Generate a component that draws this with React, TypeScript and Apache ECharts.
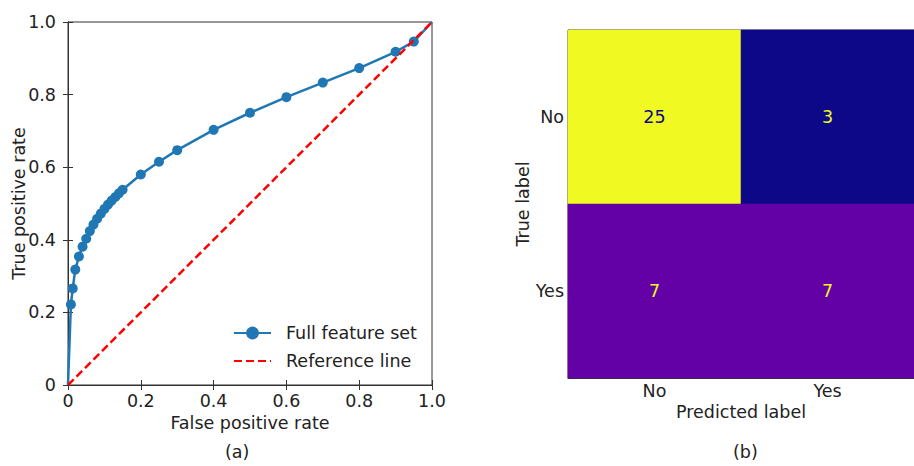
import React, { useEffect, useRef } from "react";
import * as echarts from "echarts";

const fprValues = [0, 0.008, 0.013, 0.02, 0.03, 0.04, 0.05, 0.06, 0.07, 0.08, 0.09, 0.1, 0.11, 0.12, 0.13, 0.14, 0.15, 0.2, 0.25, 0.3, 0.4, 0.5, 0.6, 0.7, 0.8, 0.9, 0.95, 1.0];
const tprValues = [0, 0.222, 0.266, 0.318, 0.354, 0.381, 0.403, 0.424, 0.442, 0.458, 0.472, 0.485, 0.497, 0.508, 0.518, 0.528, 0.538, 0.58, 0.615, 0.647, 0.703, 0.75, 0.793, 0.833, 0.873, 0.918, 0.946, 1.0];
const referenceX = [0, 1];
const referenceY = [0, 1];
const classLabels = ["No", "Yes"];
// confusion matrix rows = true label, cols = predicted label
const confusion = [
  [25, 3],
  [7, 7],
];
const seriesNames = ["Full feature set", "Reference line"];

const FONT = "DejaVu Sans";
const FS = 17.5;
const TXT = "#222";
const FRAME = "#333";

export default function App() {
  const ref = useRef<HTMLDivElement>(null);
  useEffect(() => {
    document.body.style.margin = "0";
    const chart = echarts.init(ref.current!, undefined, { renderer: "svg" });
    const rocData = fprValues.map((x, i) => {
      const item: any = { value: [x, tprValues[i]] };
      if (i === 0 || i === fprValues.length - 1) item.symbol = "none";
      return item;
    });
    const refData = referenceX.map((x, i) => [x, referenceY[i]]);
    const heatData: any[] = [];
    const flat = confusion.flat();
    const vmin = Math.min(...flat);
    const vmax = Math.max(...flat);
    confusion.forEach((row, r) =>
      row.forEach((v, c) => {
        heatData.push({
          value: [c, r, v],
          label: { color: v > (vmin + vmax) / 2 ? "#0d0887" : "#f0f921" },
        });
      })
    );
    const tickFmt = (v: number) => (v === 0 ? "0" : v.toFixed(1));
    const valueAxisCommon = {
      min: 0,
      max: 1,
      interval: 0.2,
      splitLine: { show: false },
      axisLine: { show: true, lineStyle: { color: FRAME, width: 1 } },
      axisTick: { show: true, inside: true, length: 5, lineStyle: { color: FRAME } },
    };
    const txt = { fontSize: FS, color: TXT, fontFamily: FONT };
    chart.setOption({
      animation: false,
      textStyle: { fontFamily: FONT },
      grid: [
        { left: 68, top: 22, width: 364, height: 363, show: true, borderColor: FRAME, borderWidth: 1, backgroundColor: "transparent" },
        { left: 568, top: 30, width: 349, height: 348, show: true, borderColor: FRAME, borderWidth: 1, backgroundColor: "transparent" },
      ],
      xAxis: [
        {
          ...valueAxisCommon,
          type: "value",
          gridIndex: 0,
          position: "bottom",
          axisLabel: { ...txt, formatter: tickFmt, margin: 7 },
          name: "False positive rate",
          nameLocation: "middle",
          nameGap: 29,
          nameMoveOverlap: false,
          nameTextStyle: txt,
        },
        {
          ...valueAxisCommon,
          type: "value",
          gridIndex: 0,
          position: "top",
          axisLabel: { show: false },
        },
        {
          type: "category",
          gridIndex: 1,
          data: classLabels,
          position: "bottom",
          axisLine: { show: true, lineStyle: { color: FRAME } },
          axisTick: { show: true, inside: true, length: 4, alignWithLabel: true, lineStyle: { color: FRAME } },
          axisLabel: { ...txt, margin: 4 },
          splitLine: { show: false },
          name: "Predicted label",
          nameLocation: "middle",
          nameGap: 25,
          nameMoveOverlap: false,
          nameTextStyle: txt,
        },
      ],
      yAxis: [
        {
          ...valueAxisCommon,
          type: "value",
          gridIndex: 0,
          position: "left",
          axisLabel: { ...txt, formatter: tickFmt, margin: 12 },
          name: "True positive rate",
          nameLocation: "middle",
          nameGap: 40,
          nameMoveOverlap: false,
          nameTextStyle: txt,
        },
        {
          ...valueAxisCommon,
          type: "value",
          gridIndex: 0,
          position: "right",
          axisLabel: { show: false },
        },
        {
          type: "category",
          gridIndex: 1,
          data: classLabels,
          inverse: true,
          position: "left",
          axisLine: { show: true, lineStyle: { color: FRAME } },
          axisTick: { show: true, inside: true, length: 4, alignWithLabel: true, lineStyle: { color: FRAME } },
          axisLabel: { ...txt, margin: 4 },
          splitLine: { show: false },
          name: "True label",
          nameLocation: "middle",
          nameGap: 36,
          nameMoveOverlap: false,
          nameTextStyle: txt,
        },
      ],
      visualMap: {
        show: false,
        type: "continuous",
        min: vmin,
        max: vmax,
        seriesIndex: 2,
        dimension: 2,
        inRange: {
          color: ["#0d0887", "#41049d", "#6a00a8", "#8f0da4", "#b12a90", "#cc4778", "#e16462", "#f2844b", "#fca636", "#fcce25", "#f0f921"],
        },
      },
      legend: {
        orient: "vertical",
        left: 228,
        top: 319,
        itemWidth: 37,
        itemHeight: 16,
        itemGap: 10,
        data: [
          { name: seriesNames[0] },
          { name: seriesNames[1], itemStyle: { opacity: 0 } },
        ],
        textStyle: { ...txt, padding: [0, 0, 0, 10] },
      },
      series: [
        {
          name: seriesNames[0],
          type: "line",
          xAxisIndex: 0,
          yAxisIndex: 0,
          data: rocData,
          symbol: "circle",
          symbolSize: 10,
          showSymbol: true,
          lineStyle: { color: "#1f77b4", width: 2.5 },
          itemStyle: { color: "#1f77b4" },
          z: 2,
        },
        {
          name: seriesNames[1],
          type: "line",
          xAxisIndex: 0,
          yAxisIndex: 0,
          data: refData,
          symbol: "none",
          lineStyle: { color: "#ff0000", width: 2.5, type: [8, 4] },
          itemStyle: { color: "#ff0000" },
          z: 3,
        },
        {
          type: "heatmap",
          xAxisIndex: 2,
          yAxisIndex: 2,
          data: heatData,
          label: { show: true, fontSize: FS, fontFamily: FONT, formatter: (p: any) => String(p.value[2]) },
          itemStyle: { borderWidth: 0 },
        },
      ],
      graphic: [
        { type: "text", left: 225, top: 443, style: { text: "(a)", fontSize: FS, fill: TXT, fontFamily: FONT } },
        { type: "text", left: 733, top: 443, style: { text: "(b)", fontSize: FS, fill: TXT, fontFamily: FONT } },
      ],
    });
    return () => chart.dispose();
  }, []);
  return <div ref={ref} style={{ width: 914, height: 466 }} />;
}
